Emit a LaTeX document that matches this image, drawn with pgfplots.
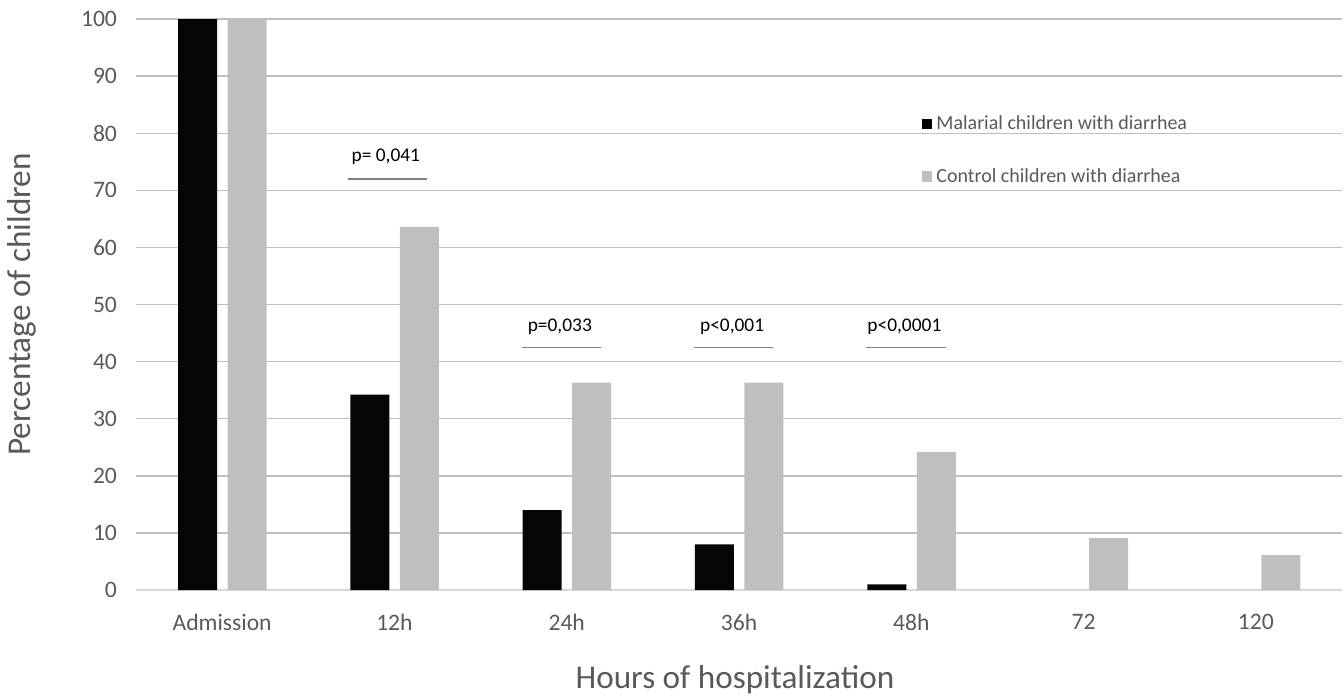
\documentclass[border=0pt]{standalone}
\usepackage{pgfplots}
\pgfplotsset{compat=1.18}
\usepackage{fontspec}
\setmainfont{Carlito}
\definecolor{txtgray}{HTML}{595959}
\definecolor{grid}{HTML}{D9D9D9}
\definecolor{ctrl}{HTML}{BFBFBF}
\definecolor{malar}{HTML}{050505}
\definecolor{pline}{HTML}{7F7F7F}
\begin{document}
\begin{tikzpicture}
\begin{axis}[
  scale only axis,
  width=603pt, height=285.5pt,
  ybar,
  xmin=-0.5, xmax=6.5,
  ymin=0, ymax=100,
  xtick={0,1,2,3,4,5,6},
  xticklabels={Admission,12h,24h,36h,48h,72,120},
  ytick={0,10,...,100},
  xmajorgrids=false,
  ymajorgrids=true,
  major grid style={grid, line width=0.7pt},
  axis x line*=bottom,
  axis y line*=left,
  x axis line style={draw=grid, line width=0.7pt, -},
  y axis line style={draw=none},
  major tick length=0pt,
  tick style={draw=none},
  /pgf/number format/assume math mode=true,
  ticklabel style={font=\fontsize{11.8}{14}\selectfont, text=txtgray},
  xticklabel style={yshift=-8.5pt},
  yticklabel style={xshift=-6pt},
  xlabel={Hours of hospitalization},
  ylabel={Percentage of children},
  label style={font=\fontsize{16.6}{20}\selectfont, text=txtgray},
  xlabel style={at={(rel axis cs:0.5,0)}, anchor=center, yshift=-45pt, xshift=-2pt},
  ylabel style={at={(rel axis cs:0,0.5)}, anchor=center, rotate=0, yshift=57pt},
  clip=false,
  legend style={at={(axis cs:4.06,83.9)}, anchor=north west, draw=none, fill=none,
    inner sep=0pt, row sep=14pt, font=\fontsize{10}{12}\selectfont, text=txtgray,
    legend cell align=left},
  legend image code/.code={\fill[#1] (0pt,-2.6pt) rectangle (5.2pt,2.6pt);},
]
\addplot+[bar width=19.5pt, bar shift=-12.25pt, fill=malar, draw=none] coordinates {
  (0,100) (1,34.2) (2,14.0) (3,8.0) (4,1.0)};
\addlegendentry{Malarial children with diarrhea}
\addplot+[bar width=19.5pt, bar shift=12.5pt, fill=ctrl, draw=none] coordinates {
  (0,100) (1,63.6) (2,36.3) (3,36.3) (4,24.2) (5,9.1) (6,6.1)};
\addlegendentry{Control children with diarrhea}

\draw[pline, line width=0.75pt] (axis cs:0.73,72.0) -- (axis cs:1.19,72.0);
\node[font=\fontsize{9.7}{12}\selectfont] at (axis cs:0.95,75.8) {p= 0,041};
\draw[pline, line width=0.75pt] (axis cs:1.74,42.5) -- (axis cs:2.2,42.5);
\node[font=\fontsize{9.7}{12}\selectfont] at (axis cs:1.96,46.1) {p=0,033};
\draw[pline, line width=0.75pt] (axis cs:2.74,42.5) -- (axis cs:3.2,42.5);
\node[font=\fontsize{9.7}{12}\selectfont] at (axis cs:2.96,46.1) {p<0,001};
\draw[pline, line width=0.75pt] (axis cs:3.74,42.5) -- (axis cs:4.2,42.5);
\node[font=\fontsize{9.7}{12}\selectfont] at (axis cs:3.96,46.1) {p<0,0001};
\end{axis}
\pgfresetboundingbox
\path[use as bounding box] (-68pt,-54pt) rectangle (604pt,295pt);
\end{tikzpicture}
\end{document}
